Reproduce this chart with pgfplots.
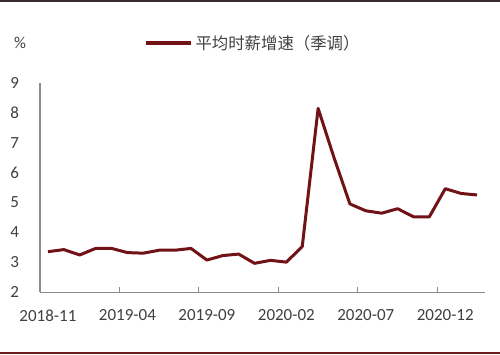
\documentclass[border=0pt]{standalone}
\usepackage{fontspec}
\setmainfont{Carlito}
\newfontfamily\cjk{Noto Sans CJK SC}
\usepackage{pgfplots}
\usepackage{pgfplotstable}
\pgfplotsset{compat=1.18}
\definecolor{wage}{RGB}{112,18,22}
\definecolor{axisgray}{RGB}{140,140,140}
\definecolor{txt}{RGB}{64,64,64}
\definecolor{topline}{RGB}{58,44,44}
\definecolor{botline}{RGB}{110,26,26}
\pgfplotstableread{
i v
0 3.35
1 3.42
2 3.24
3 3.46
4 3.46
5 3.32
6 3.30
7 3.40
8 3.40
9 3.46
10 3.07
11 3.22
12 3.27
13 2.96
14 3.06
15 3.00
16 3.52
17 8.15
18 6.50
19 4.95
20 4.72
21 4.64
22 4.79
23 4.52
24 4.52
25 5.46
26 5.30
27 5.25
}\wagedata
\begin{document}
\begin{tikzpicture}
\path[use as bounding box] (0,0) rectangle (375pt,265.5pt);
\draw[topline, line width=1.1pt] (0,264.75pt) -- (375pt,264.75pt);
\draw[botline, line width=0.9pt] (0,0.75pt) -- (375pt,0.75pt);
\node[text=txt, font=\fontsize{12.5pt}{14pt}\selectfont, inner sep=0pt] at (15pt,233.25pt) {\%};
\begin{axis}[
 at={(30pt,46.5pt)}, anchor=south west,
 scale only axis, width=333.75pt, height=156.75pt,
 xmin=-0.5, xmax=27.5, ymin=2, ymax=9,
 axis x line*=bottom, axis y line*=left,
 axis line style={draw=axisgray, line width=0.75pt, -},
 xtick={0,5,10,15,20,25},
 xticklabels={2018-11,2019-04,2019-09,2020-02,2020-07,2020-12},
 major tick length=0pt,
 extra x ticks={4.5,9.5,14.5,19.5,24.5},
 extra x tick labels={},
 extra x tick style={major tick length=3.75pt, tick align=inside, tick style={draw=axisgray, line width=0.75pt}},
 ytick={2,...,9},
 tick label style={font=\fontsize{12.75pt}{15pt}\selectfont, text=txt},
 xticklabel style={anchor=north, inner sep=0pt, yshift=-13pt},
 yticklabel style={anchor=east, inner sep=0pt, xshift=-15.5pt},
 /pgf/number format/assume math mode=true,
 clip=false,
 legend style={at={(0.234,1.191)}, anchor=west, draw=none, fill=none, inner sep=0pt, font=\cjk\fontsize{12.3pt}{14pt}\selectfont, text=txt},
 legend cell align=left,
 legend image code/.code={\draw[#1, line width=2.6pt] (0pt,0pt) -- (33.75pt,0pt);},
]
\addplot[wage, line width=2.25pt, line join=round, mark=none] table[x=i, y=v] {\wagedata};
\addlegendentry{平均时薪增速（季调）}
\end{axis}
\end{tikzpicture}
\end{document}
